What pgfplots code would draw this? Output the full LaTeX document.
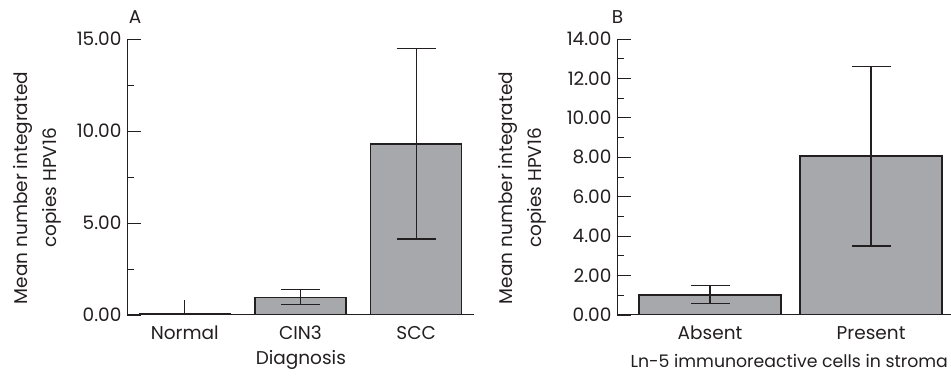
\documentclass[border=0pt]{standalone}
\usepackage{fontspec}
\setmainfont{Poppins}
\usepackage{pgfplots}
\pgfplotsset{compat=1.18}
\definecolor{barfill}{HTML}{A7A8AB}
\definecolor{ink}{HTML}{231F20}
\pgfplotsset{
  panel/.style={
    scale only axis,
    axis lines=left,
    axis line style={-, line width=1pt, color=ink},
    tick align=inside,
    major tick length=14pt,
    minor tick length=7pt,
    ytick style={line width=0.8pt, color=ink},
    xtick style={draw=none},
    ymin=0,
    every tick label/.append style={font=\fontsize{18.5}{20}\selectfont, color=ink},
    /pgf/number format/.cd, fixed, fixed zerofill, precision=2, assume math mode=true, 1000 sep={},
    /pgfplots/.cd,
    yticklabel style={xshift=-2pt},
    xticklabel style={anchor=base, yshift=-25pt},
    label style={font=\fontsize{18.5}{29}\selectfont, color=ink},
    ylabel style={align=center, anchor=center, rotate=0},
    bars/.style={ybar, bar shift=0pt, fill=barfill, draw=ink, line width=1.3pt},
    errs/.style={draw=none, fill=none, forget plot, mark=none,
      error bars/.cd, y dir=both, y explicit,
      error bar style={line width=1.3pt, color=ink},
      error mark options={rotate=90, line width=1.3pt, color=ink, mark size=19.5pt}},
  }
}
\begin{document}
\begin{tikzpicture}[x=1pt,y=1pt]
\path[use as bounding box, clip] (0,0) rectangle (951,377);
% Panel A
\begin{axis}[panel,
  at={(127pt,62pt)}, anchor=south west,
  width=347pt, height=276pt,
  xmin=-0.5, xmax=2.5, ymax=15,
  ytick={0,5,10,15}, minor ytick={2.5,7.5,12.5},
  xtick={0,1,2}, xticklabels={Normal,CIN3,SCC},
  xlabel={Diagnosis},
  xlabel style={at={(axis description cs:0.501,-0.181)}, anchor=base},
  ylabel={Mean number integrated\\copies HPV16},
  ylabel style={at={(axis description cs:-0.258,0.46)}},
  bar width=91pt,
]
\addplot[bars] coordinates {(0,0.07) (1,0.96) (2,9.29)};
\addplot[errs] coordinates {(1,0.96) += (0,0.41) -= (0,0.38) (2,9.29) += (0,5.21) -= (0,5.16)};
\addplot[draw=none, fill=none, forget plot, mark=none,
  error bars/.cd, y dir=minus, y explicit,
  error bar style={line width=1.3pt, color=ink},
  error mark options={rotate=90, line width=1.3pt, color=ink, mark size=19.5pt}]
  coordinates {(0,0.07) -= (0,0.07)};
\addplot[draw=none, fill=none, forget plot, mark=none,
  error bars/.cd, y dir=plus, y explicit, error mark=none,
  error bar style={line width=1.3pt, color=ink}]
  coordinates {(0,0.07) += (0,0.73)};
\end{axis}
% Panel B
\begin{axis}[panel,
  at={(617pt,62pt)}, anchor=south west,
  width=334.6pt, height=276pt,
  xmin=-0.578, xmax=1.5, ymax=14,
  ytick={0,2,...,14}, minor ytick={1,3,...,13},
  xtick={0,1}, xticklabels={Absent,Present},
  xlabel={Ln-5 immunoreactive cells in stroma},
  xlabel style={at={(axis description cs:0.030,-0.192)}, anchor=base west, font=\fontsize{17.3}{20}\selectfont},
  ylabel={Mean number integrated\\copies HPV16},
  ylabel style={at={(axis description cs:-0.282,0.46)}},
  bar width=142pt,
]
\addplot[bars] coordinates {(0,1.02) (1,8.07)};
\addplot[errs] coordinates {(0,1.02) += (0,0.47) -= (0,0.45) (1,8.07) += (0,4.55) -= (0,4.57)};
\end{axis}
\node[font=\fontsize{18.5}{20}\selectfont, text=ink] at (135,359.5) {A};
\node[font=\fontsize{18.5}{20}\selectfont, text=ink] at (617.5,359.5) {B};
\end{tikzpicture}
\end{document}
